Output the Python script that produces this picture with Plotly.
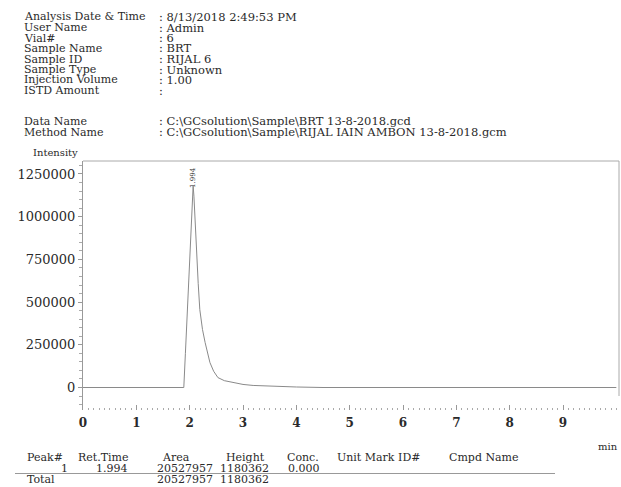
import plotly.graph_objects as go

# ---- data ----
rt_min = [0.0, 1.89, 1.92, 1.95, 1.98, 2.0, 2.03, 2.05, 2.065, 2.08, 2.1, 2.13, 2.16, 2.19, 2.24,
          2.29, 2.34, 2.38, 2.45, 2.53, 2.65, 2.81, 3.0, 3.19, 3.6, 4.0, 4.5, 10.0]
intensity = [0, 0, 200000, 420000, 640000, 780000, 1000000, 1140000, 1180362, 1120000, 980000,
             807000, 610000, 456000, 340000, 263000, 190000, 146000, 95000, 58000, 40000, 29000,
             18000, 12000, 6000, 3000, 0, 0]
y_ticks = [0, 250000, 500000, 750000, 1000000, 1250000]
y_tick_text = ["0", "250000", "500000", "750000", "1000000", "1250000"]
x_ticks = [0, 1, 2, 3, 4, 5, 6, 7, 8, 9]
peak_label = "1.994"
peak_rt_drawn = 2.06

header_labels = ["Analysis Date & Time", "User Name", "Vial#", "Sample Name", "Sample ID",
                 "Sample Type", "Injection Volume", "ISTD Amount"]
header_values = [": 8/13/2018 2:49:53 PM", ": Admin", ": 6", ": BRT", ": RIJAL 6",
                 ": Unknown", ": 1.00", ":"]
file_labels = ["Data Name", "Method Name"]
file_values = [": C:\\GCsolution\\Sample\\BRT 13-8-2018.gcd",
               ": C:\\GCsolution\\Sample\\RIJAL IAIN AMBON 13-8-2018.gcm"]
table_header = ["Peak#", "Ret.Time", "Area", "Height", "Conc.", "Unit Mark ID#", "Cmpd Name"]
row1 = ["1", "1.994", "20527957", "1180362", "0.000"]
total_row = ["Total", "20527957", "1180362"]

W, H = 621, 487
L, R, T, B = 83, 619, 161, 410  # plot area in pixels

def px(x):
    return (x - L) / (R - L)

def py(y):
    return (B - y) / (B - T)

TXT = "#2a2a2a"
FONT = "DejaVu Serif"

fig = go.Figure()
fig.add_trace(go.Scatter(x=rt_min, y=intensity, mode="lines",
                         line=dict(color="#8a8a8a", width=1), hoverinfo="skip"))

fig.update_layout(
    width=W, height=H, margin=dict(l=L, r=W - R, t=T, b=H - B),
    paper_bgcolor="white", plot_bgcolor="white", showlegend=False,
    font=dict(family=FONT, color=TXT),
    xaxis=dict(range=[0, 10.05], tickvals=x_ticks, showgrid=False, zeroline=False,
               showline=False, ticks="inside", ticklen=5, tickcolor="#999", ticklabelstandoff=4,
               tickfont=dict(size=12, family=FONT, color=TXT, weight="bold"),
               minor=dict(dtick=0.1, ticks="inside", ticklen=2, tickcolor="#aaa", showgrid=False)),
    yaxis=dict(range=[-131700, 1326000], tickvals=y_ticks, ticktext=y_tick_text,
               showgrid=False, zeroline=False,
               showline=True, linecolor="#999", linewidth=1, ticks="outside", ticklen=4,
               tickcolor="#999", tickfont=dict(size=13, family=FONT, color=TXT),
               minor=dict(dtick=50000, ticks="outside", ticklen=3, tickcolor="#aaa", showgrid=False)),
)

# frame: top and right borders
fig.add_shape(type="line", xref="paper", yref="paper", x0=0, x1=1, y0=1, y1=1,
              line=dict(color="#aaa", width=1))
fig.add_shape(type="line", xref="paper", yref="paper", x0=1, x1=1, y0=py(396), y1=1,
              line=dict(color="#aaa", width=1))

ann = []
def txt(x, y, s, size=11, xanchor="left", **kw):
    ann.append(dict(x=px(x), y=py(y), xref="paper", yref="paper", text=s, showarrow=False,
                    xanchor=xanchor, yanchor="middle", font=dict(size=size, family=FONT, color=TXT), **kw))

# header
for i, (lab, val) in enumerate(zip(header_labels, header_values)):
    yy = 17 + i * 10.5
    txt(22, yy, lab, 11)
    txt(157, yy, val, 11.5)
for i, (lab, val) in enumerate(zip(file_labels, file_values)):
    yy = 121 + i * 11
    txt(22, yy, lab, 11)
    txt(157, yy, val, 11.5)
txt(31, 152, "Intensity", 10)

# peak label
ann.append(dict(x=peak_rt_drawn, y=1232000, xref="x", yref="y", text=peak_label, showarrow=False,
                textangle=-90, font=dict(size=7, family=FONT, color=TXT), xanchor="center", yanchor="middle"))

txt(620, 446, "min", 10, xanchor="right")

# table
hx = [25, 76, 160, 224, 285, 335, 447]
for x, s in zip(hx, table_header):
    txt(x, 457, s, 11)
txt(70, 468, row1[0], 11, xanchor="right")
txt(130, 468, row1[1], 11, xanchor="right")
txt(155, 468, row1[2], 11)
txt(218, 468, row1[3], 11)
txt(322, 468, row1[4], 11, xanchor="right")
txt(25, 479, total_row[0], 11)
txt(155, 479, total_row[1], 11)
txt(218, 479, total_row[2], 11)
fig.update_layout(annotations=ann)

fig.add_shape(type="line", xref="paper", yref="paper", x0=px(15), x1=px(555), y0=py(473.5), y1=py(473.5),
              line=dict(color="#999", width=1))

fig.write_html("out.html", post_script="document.body.style.margin='0';",
               config={"displayModeBar": False})
